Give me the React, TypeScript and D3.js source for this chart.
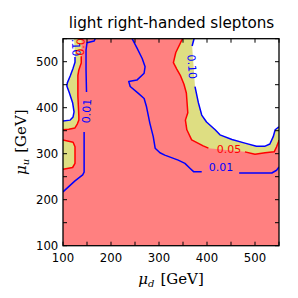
import React from "react";
import * as d3 from "d3";

const TITLE = "light right-handed sleptons";
const AXIS_TICKS = [100, 150, 200, 250, 300, 350, 400, 450, 500, 550];
const TICK_LABELS = [100, 200, 300, 400, 500];

// contour polylines, [mu_d, mu_u] in GeV
const red05LeftA: number[][] = [[139, 550], [138, 512], [138, 497], [133, 482], [131, 470], [131, 425], [133, 382], [133, 373], [130, 365], [125, 356], [112, 353], [100, 352]];
const red05LeftB: number[][] = [[100, 330], [121, 325], [125, 315], [125, 279], [120, 270], [100, 266]];
const blue10Left: number[][] = [[123, 550], [125, 510], [125, 499], [121, 486], [115, 469], [109, 454], [108, 447], [113, 433], [120, 411], [123, 391], [121, 380], [115, 373], [100, 371]];
const blue01LeftA: number[][] = [[167, 550], [165, 545], [150, 541], [148, 525], [148, 482], [149, 434]];
const blue01LeftB: number[][] = [[144, 347], [144, 260], [141, 254], [125, 241], [100, 217]];
const blue01MidA: number[][] = [[244, 550], [254, 530], [265, 507], [271, 489], [269, 475], [254, 460], [237, 457], [240, 446], [257, 431], [269, 420], [274, 402], [281, 366], [288, 337], [292, 312], [302, 302], [312, 297], [340, 286], [354, 279], [365, 268], [372, 261], [389, 261]];
const blue01MidB: number[][] = [[467, 258], [535, 258], [545, 264], [550, 271]];
const red05RightA: number[][] = [[349, 550], [335, 520], [330, 498], [337, 484], [345, 469], [352, 451], [357, 432], [360, 389], [355, 373], [358, 352], [368, 330], [392, 317], [403, 312]];
const red05RightB: number[][] = [[479, 304], [500, 299], [521, 302], [540, 304], [545, 315], [549, 326], [550, 330]];
const blue10RightA: number[][] = [[373, 550], [369, 534]];
const blue10RightB: number[][] = [[375, 446], [382, 411], [389, 384], [399, 369], [417, 352], [427, 341], [452, 331], [479, 323], [503, 316], [520, 316], [531, 321], [538, 337], [542, 352], [548, 357], [550, 358]];

const LABEL_TEXT = ["0.10", "0.05", "0.01", "0.10", "0.05", "0.01"];
const LABEL_D = [126, 137.5, 150, 368, 446, 429];
const LABEL_U = [538, 540, 393, 489, 309, 270];
const LABEL_LEVEL = ["b", "r", "b", "b", "r", "b"];
const LABEL_ROT = [88, -88, -86, 86, 0, 0];

const L = 63, R = 279, T = 38.7, B = 245.7;
const RED = "#ff0000", BLUE = "#0000ff", FILL_RED = "#ff8080", FILL_YEL = "#dede82";

export default function App() {
  const x = d3.scaleLinear().domain([100, 550]).range([L, R]);
  const y = d3.scaleLinear().domain([100, 550]).range([B, T]);
  const line = d3.line<number[]>().x((d) => x(d[0])).y((d) => y(d[1]));
  const poly = (pts: number[][]) => (line(pts) || "") + "Z";

  const yellow1 = [[100, 550], ...red05LeftA];
  const white1 = [[100, 550], ...blue10Left];
  const yellow2 = red05LeftB;
  const yellowR = [...red05RightA, ...red05RightB, [550, 550]];
  const whiteR = [...blue10RightA, ...blue10RightB, [550, 550]];

  const redLines = [red05LeftA.slice(1), red05LeftB, red05RightA, red05RightB];
  const blueLines = [blue10Left.slice(1), blue01LeftA, blue01LeftB, blue01MidA, blue01MidB, blue10RightA, blue10RightB];

  return (
    <div style={{ position: "fixed", left: 0, top: 0 }}>
      <svg width={298} height={298} style={{ display: "block", background: "#fff" }} fontFamily="DejaVu Sans">
        <defs>
          <clipPath id="plotclip">
            <rect x={L} y={T} width={R - L} height={B - T} />
          </clipPath>
        </defs>
        <text x={171.5} y={28.3} fontSize={15.2} textAnchor="middle">{TITLE}</text>
        <g clipPath="url(#plotclip)">
          <rect x={L} y={T} width={R - L} height={B - T} fill={FILL_RED} />
          <path d={poly(yellow1)} fill={FILL_YEL} />
          <path d={poly(yellow2)} fill={FILL_YEL} />
          <path d={poly(yellowR)} fill={FILL_YEL} />
          <path d={poly(white1)} fill="#fff" />
          <path d={poly(whiteR)} fill="#fff" />
          {redLines.map((p, i) => (
            <path key={"r" + i} d={line(p) || ""} fill="none" stroke={RED} strokeWidth={1.5} strokeLinejoin="round" />
          ))}
          {blueLines.map((p, i) => (
            <path key={"b" + i} d={line(p) || ""} fill="none" stroke={BLUE} strokeWidth={1.5} strokeLinejoin="round" />
          ))}
          {LABEL_TEXT.map((t, i) => (
            <text key={"l" + i} x={0} y={0} fontSize={11} textAnchor="middle" dominantBaseline="central"
              fill={LABEL_LEVEL[i] === "r" ? RED : BLUE}
              transform={`translate(${x(LABEL_D[i])},${y(LABEL_U[i])}) rotate(${LABEL_ROT[i]})`}>{t}</text>
          ))}
        </g>
        <rect x={L} y={T} width={R - L} height={B - T} fill="none" stroke="#000" strokeWidth={1.3} />
        {AXIS_TICKS.map((v) => (
          <g key={"t" + v} stroke="#000" strokeWidth={1}>
            <line x1={x(v)} x2={x(v)} y1={B} y2={B - 4} />
            <line x1={x(v)} x2={x(v)} y1={T} y2={T + 4} />
            <line y1={y(v)} y2={y(v)} x1={L} x2={L + 4} />
            <line y1={y(v)} y2={y(v)} x1={R} x2={R - 4} />
          </g>
        ))}
        {TICK_LABELS.map((v) => (
          <text key={"xl" + v} x={x(v)} y={261.5} fontSize={11.7} textAnchor="middle">{v}</text>
        ))}
        {TICK_LABELS.map((v) => (
          <text key={"yl" + v} x={58.3} y={y(v)} fontSize={11.7} textAnchor="end" dominantBaseline="central">{v}</text>
        ))}
        <text x={171} y={284} fontSize={15} textAnchor="middle" fontFamily="DejaVu Serif">
          <tspan fontStyle="italic">μ</tspan>
          <tspan fontStyle="italic" fontSize={10} dy={3}>d</tspan>
          <tspan dy={-3} dx={6}>[GeV]</tspan>
        </text>
        <text transform={`translate(26,${(T + B) / 2}) rotate(-90)`} fontSize={15} textAnchor="middle" fontFamily="DejaVu Serif">
          <tspan fontStyle="italic">μ</tspan>
          <tspan fontStyle="italic" fontSize={10} dy={3}>u</tspan>
          <tspan dy={-3} dx={6}>[GeV]</tspan>
        </text>
      </svg>
    </div>
  );
}
